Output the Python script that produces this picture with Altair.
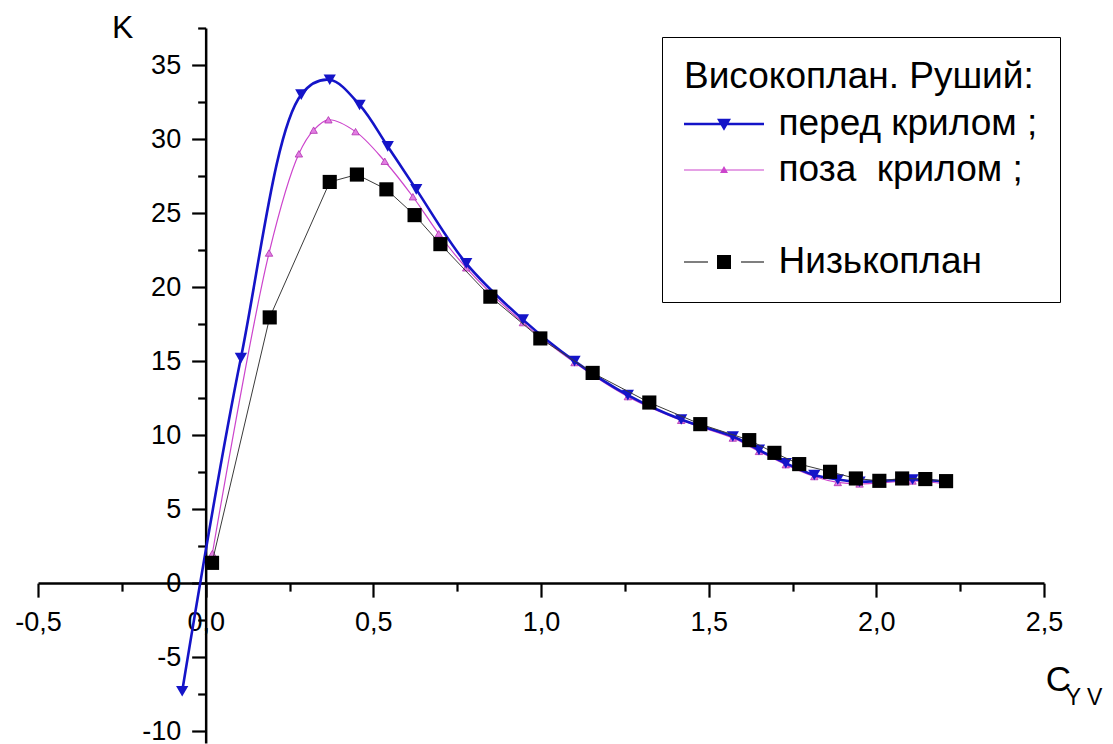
import altair as alt
import pandas as pd

# ---------------- data ----------------
blue_x = [-0.07, 0.105, 0.285, 0.37, 0.459, 0.543, 0.628, 0.777, 0.946, 1.10,
          1.259, 1.418, 1.572, 1.65, 1.73, 1.815, 1.885, 1.95, 2.108, 2.208]
blue_y = [-7.3, 15.2, 33.0, 34.0, 32.3, 29.5, 26.6, 21.6, 17.8, 15.0,
          12.7, 11.05, 9.9, 9.0, 8.1, 7.3, 7.0, 6.85, 7.0, 6.85]

mag_x = [0.02, 0.189, 0.278, 0.322, 0.366, 0.447, 0.534, 0.618, 0.695, 0.777,
         0.946, 1.10, 1.259, 1.418, 1.572, 1.65, 1.73, 1.815, 1.885, 1.95, 2.108, 2.208]
mag_y = [2.0, 22.3, 29.0, 30.6, 31.3, 30.5, 28.5, 26.1, 23.6, 21.3,
         17.6, 14.9, 12.6, 11.0, 9.8, 8.9, 8.0, 7.2, 6.8, 6.7, 6.9, 6.7]

low_x = [0.019, 0.191, 0.37, 0.451, 0.539, 0.623, 0.70, 0.849, 0.998, 1.154, 1.323,
         1.475, 1.621, 1.696, 1.77, 1.862, 1.939, 2.009, 2.077, 2.146, 2.208]
low_y = [1.37, 17.95, 27.1, 27.6, 26.6, 24.86, 22.9, 19.35, 16.53, 14.2, 12.2,
         10.74, 9.66, 8.8, 8.04, 7.52, 7.07, 6.91, 7.07, 7.03, 6.89]

series_names = ["перед крилом ;", "поза\u00a0 крилом ;", " ", "Низькоплан"]
legend_title = "Високоплан. Руший:"

x_major = [-0.5, 0.0, 0.5, 1.0, 1.5, 2.0, 2.5]
x_minor = [-0.25, 0.25, 0.75, 1.25, 1.75, 2.25]
y_major = [-10, -5, 0, 5, 10, 15, 20, 25, 30, 35]
y_minor = [-7.5, -2.5, 2.5, 7.5, 12.5, 17.5, 22.5, 27.5, 32.5, 37.5]

x_title = "C"
x_subscript = "Y V"

# ---------------- styles / layout ----------------
FONT = "Liberation Sans"
BLUE = "#1414c8"
MAGENTA = "#cc44cc"
colors = [BLUE, MAGENTA, "#ffffff", "#000000"]
# legend symbols: unit = 18.5 px (symbolSize 1369)
legend_paths = [
    "M-2.162,-0.068H2.162V0.068H-2.162Z M-0.378,-0.28L0.378,-0.28L0,0.37Z",
    "M-2.162,-0.03H2.162V0.03H-2.162Z M-0.216,0.162L0,-0.216L0.216,0.162Z",
    "M-0.01,-0.01H0.01V0.01H-0.01Z",
    "M-2.162,-0.03H-0.865V0.03H-2.162Z M0.92,-0.03H2.162V0.03H0.92Z "
    "M-0.378,-0.378H0.378V0.378H-0.378Z",
]

X_DOMAIN = [-0.5, 2.5]
Y_DOMAIN = [-10.8, 37.5]
W, H = 1006, 715
y0_from_bottom = H * (0 - Y_DOMAIN[0]) / (Y_DOMAIN[1] - Y_DOMAIN[0])
x0_from_left = W * (0 - X_DOMAIN[0]) / (X_DOMAIN[1] - X_DOMAIN[0])

df = pd.DataFrame({
    "series": [series_names[0]] * len(blue_x) + [series_names[1]] * len(mag_x) + [series_names[3]] * len(low_x),
    "x": blue_x + mag_x + low_x,
    "y": blue_y + mag_y + low_y,
})

xscale = alt.Scale(domain=X_DOMAIN, nice=False, zero=False)
yscale = alt.Scale(domain=Y_DOMAIN, nice=False, zero=False)

x_major_axis = alt.Axis(
    values=x_major, orient="bottom", offset=-y0_from_bottom, grid=False,
    tickSize=14, tickWidth=2.2, tickColor="black",
    domainColor="black", domainWidth=2.5,
    labelFont=FONT, labelFontSize=27, labelColor="black", labelPadding=12,
    labelFlush=False, labelOverlap=False,
    labelExpr="(datum.value < 0 ? '-' : '') + replace(format(abs(datum.value), '.1f'), '.', ',')",
    title=x_title, titleFont=FONT, titleFontSize=35, titleFontWeight="normal",
    titleColor="black", titleX=1020, titleY=107, titleAlign="center",
    titleBaseline="alphabetic", titleAngle=0,
)
x_minor_axis = alt.Axis(
    values=x_minor, orient="bottom", offset=-y0_from_bottom, grid=False,
    tickSize=8, tickWidth=2.2, tickColor="black", domain=False, labels=False, title=None,
)
y_major_axis = alt.Axis(
    values=y_major, orient="left", offset=-x0_from_left, grid=False,
    tickSize=14, tickWidth=2.2, tickColor="black",
    domainColor="black", domainWidth=2.5,
    labelFont=FONT, labelFontSize=27, labelColor="black", labelPadding=11,
    labelFlush=False, labelOverlap=False,
    labelExpr="(datum.value < 0 ? '-' : '') + format(abs(datum.value), 'd')",
    title="K", titleFont=FONT, titleFontSize=32, titleFontWeight="normal",
    titleColor="black", titleX=-83.5, titleY=9, titleAlign="center",
    titleBaseline="alphabetic", titleAngle=0,
)
y_minor_axis = alt.Axis(
    values=y_minor, orient="left", offset=-x0_from_left, grid=False,
    tickSize=8, tickWidth=2.2, tickColor="black", domain=False, labels=False, title=None,
)

base = alt.Chart(df)


def enc(xaxis=None, yaxis=None):
    return dict(
        x=alt.X("x:Q", scale=xscale, axis=xaxis),
        y=alt.Y("y:Q", scale=yscale, axis=yaxis),
    )


blue_f = alt.datum.series == series_names[0]
mag_f = alt.datum.series == series_names[1]
low_f = alt.datum.series == series_names[3]

mag_line = base.transform_filter(mag_f).mark_line(
    interpolate="catmull-rom", strokeWidth=1.2, color=MAGENTA
).encode(**enc(x_minor_axis, y_minor_axis))
mag_pts = base.transform_filter(mag_f).mark_point(
    shape="triangle-up", filled=True, size=55, fill="#e27ee2", stroke="#b030b0",
    strokeWidth=0.8, opacity=1
).encode(**enc())

blue_line = base.transform_filter(blue_f).mark_line(
    interpolate="catmull-rom", strokeWidth=2.6, color=BLUE
).encode(**enc(x_major_axis, y_major_axis))
blue_pts = base.transform_filter(blue_f).mark_point(
    shape="triangle-down", filled=True, size=150, color=BLUE, opacity=1
).encode(**enc())

low_line = base.transform_filter(low_f).mark_line(
    strokeWidth=1, color="#3a3a3a"
).encode(**enc())
low_pts = base.transform_filter(low_f).mark_point(
    shape="square", filled=True, size=200, color="black", opacity=1
).encode(**enc())

legend = alt.Legend(
    title=legend_title, orient="none", legendX=624, legendY=9,
    direction="vertical", columns=1,
    symbolSize=1369, symbolStrokeWidth=0, symbolOffset=21.5, labelOffset=36,
    labelFont=FONT, labelFontSize=37, labelColor="black", labelLimit=1000,
    titleFont=FONT, titleFontSize=37, titleFontWeight="normal", titleColor="black",
    titleLimit=1000, titlePadding=9.5, rowPadding=8, padding=22,
    strokeColor="black", fillColor="white", cornerRadius=0,
)
legend_layer = base.transform_filter("false").mark_point(filled=True, opacity=1).encode(
    color=alt.Color("series:N", scale=alt.Scale(domain=series_names, range=colors), legend=legend),
    shape=alt.Shape("series:N", scale=alt.Scale(domain=series_names, range=legend_paths), legend=legend),
)

sub_df = pd.DataFrame({"x": [2.565], "y": [-8.24], "t": [x_subscript]})
sub_text = alt.Chart(sub_df).mark_text(
    align="left", baseline="alphabetic", font=FONT, fontSize=23, color="black"
).encode(text="t:N", **enc())

chart = alt.layer(
    mag_line, mag_pts, blue_line, blue_pts, low_line, low_pts, legend_layer, sub_text
).resolve_axis(x="independent", y="independent").properties(
    width=W, height=H,
    autosize=alt.AutoSizeParams(type="none"),
    padding={"left": 30, "top": 20, "right": 61, "bottom": 6},
).configure_view(stroke=None)

chart.save("out.html", embed_options={"renderer": "svg", "actions": False})
